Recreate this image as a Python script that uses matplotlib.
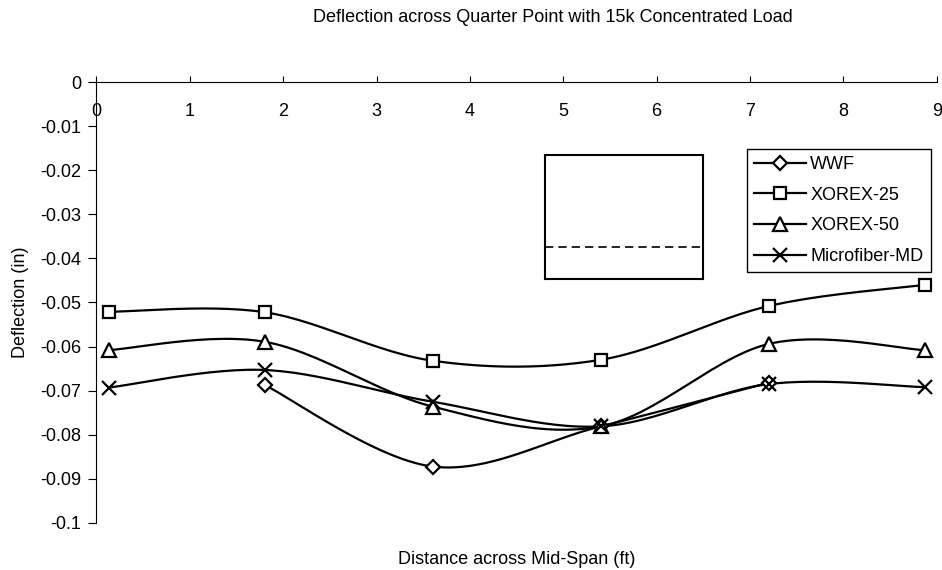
import numpy as np
import matplotlib
matplotlib.use("Agg")
import matplotlib.pyplot as plt

plt.rcParams['font.family'] = ['Liberation Sans', 'DejaVu Sans']

# --- data ---
x_full = [0.13, 1.8, 3.6, 5.4, 7.2, 8.87]
x_wwf = [1.8, 3.6, 5.4, 7.2]
wwf = [-0.0687, -0.0872, -0.0781, -0.0682]
xorex25 = [-0.0521, -0.0522, -0.0632, -0.0630, -0.0508, -0.0460]
xorex50 = [-0.0608, -0.0589, -0.0736, -0.0781, -0.0594, -0.0608]
micro = [-0.0693, -0.0653, -0.0725, -0.0781, -0.0685, -0.0692]

labels = ["WWF", "XOREX-25", "XOREX-50", "Microfiber-MD"]
xticks = list(range(0, 10))
yticks = [0, -0.01, -0.02, -0.03, -0.04, -0.05, -0.06, -0.07, -0.08, -0.09, -0.1]
ytick_labels = ["0", "-0.01", "-0.02", "-0.03", "-0.04", "-0.05", "-0.06",
                "-0.07", "-0.08", "-0.09", "-0.1"]

FS = 13


def smooth(xs, ys, n=30):
    # excel-ish smoothed line: cubic bezier, control points from neighbours
    p = np.column_stack([xs, ys]).astype(float)
    pts = np.vstack([p[0], p, p[-1]])
    out = [p[:1]]
    t = np.linspace(0, 1, n)[1:, None]
    for i in range(1, len(pts) - 2):
        p0, p1 = pts[i], pts[i + 1]
        c1 = p0 + (pts[i + 1] - pts[i - 1]) / 6.0
        c2 = p1 - (pts[i + 2] - pts[i]) / 6.0
        seg = ((1 - t) ** 3) * p0 + 3 * ((1 - t) ** 2) * t * c1 \
            + 3 * (1 - t) * t ** 2 * c2 + t ** 3 * p1
        out.append(seg)
    c = np.vstack(out)
    return c[:, 0], c[:, 1]


fig = plt.figure(figsize=(9.42, 5.70), dpi=100)
ax = fig.add_axes([0.1024, 0.0825, 0.8920, 0.7736])

series = [(x_wwf, wwf, 'D', 7.5), (x_full, xorex25, 's', 9),
          (x_full, xorex50, '^', 9.5), (x_full, micro, 'x', 10)]
handles = []
for (xs, ys, mk, ms), lab in zip(series, labels):
    sx, sy = smooth(xs, ys)
    face = 'white' if mk != 'x' else 'black'
    ax.plot(sx, sy, color='black', lw=1.6, zorder=3)
    ax.plot(xs, ys, ls='none', marker=mk, ms=ms, mfc=face,
            mec='black', mew=1.6, zorder=4)
    h, = ax.plot([], [], color='black', lw=1.6, marker=mk, ms=ms,
                 mfc=face, mec='black', mew=1.6)
    handles.append(h)

ax.set_xlim(0, 9)
ax.set_ylim(-0.1, 0)
ax.set_xticks(xticks)
ax.set_yticks(yticks)
ax.set_yticklabels(ytick_labels)

for s in ['top', 'right']:
    ax.spines[s].set_visible(False)
ax.spines['bottom'].set_position(('data', 0))
ax.spines['bottom'].set_zorder(5)
ax.tick_params(axis='x', direction='in', length=4, pad=15, labelsize=FS)
ax.tick_params(axis='y', direction='out', length=6, pad=5, labelsize=FS)

fig.text(553 / 942, 1 - 17 / 570, "Deflection across Quarter Point with 15k Concentrated Load",
         ha='center', va='center', fontsize=FS)
fig.text(517 / 942, 1 - 560 / 570, "Distance across Mid-Span (ft)",
         ha='center', va='center', fontsize=FS)
fig.text(21 / 942, 1 - 302 / 570, "Deflection (in)", rotation=90,
         ha='center', va='center', fontsize=FS)

# odd empty box with a dashed line that sits in the plot area
box = fig.add_axes([545 / 942, 1 - 279 / 570, (703 - 545) / 942, (279 - 155) / 570])
box.set_xticks([])
box.set_yticks([])
box.patch.set_alpha(0)
for s in box.spines.values():
    s.set_linewidth(1.5)
box.axhline((279 - 246.7) / (279 - 155), color='black', lw=1.2, ls=(0, (5, 3)))
box.set_ylim(0, 1)

leg = fig.legend(handles, labels, loc='upper left',
                 bbox_to_anchor=(746.7 / 942, 1 - 149 / 570),
                 frameon=True, fancybox=False, edgecolor='black', framealpha=1,
                 borderaxespad=0, fontsize=FS, handlelength=2.9,
                 handletextpad=0.22, labelspacing=0.75, borderpad=0.4)
leg.get_frame().set_linewidth(1.0)

fig.savefig("out.png", dpi=100)
